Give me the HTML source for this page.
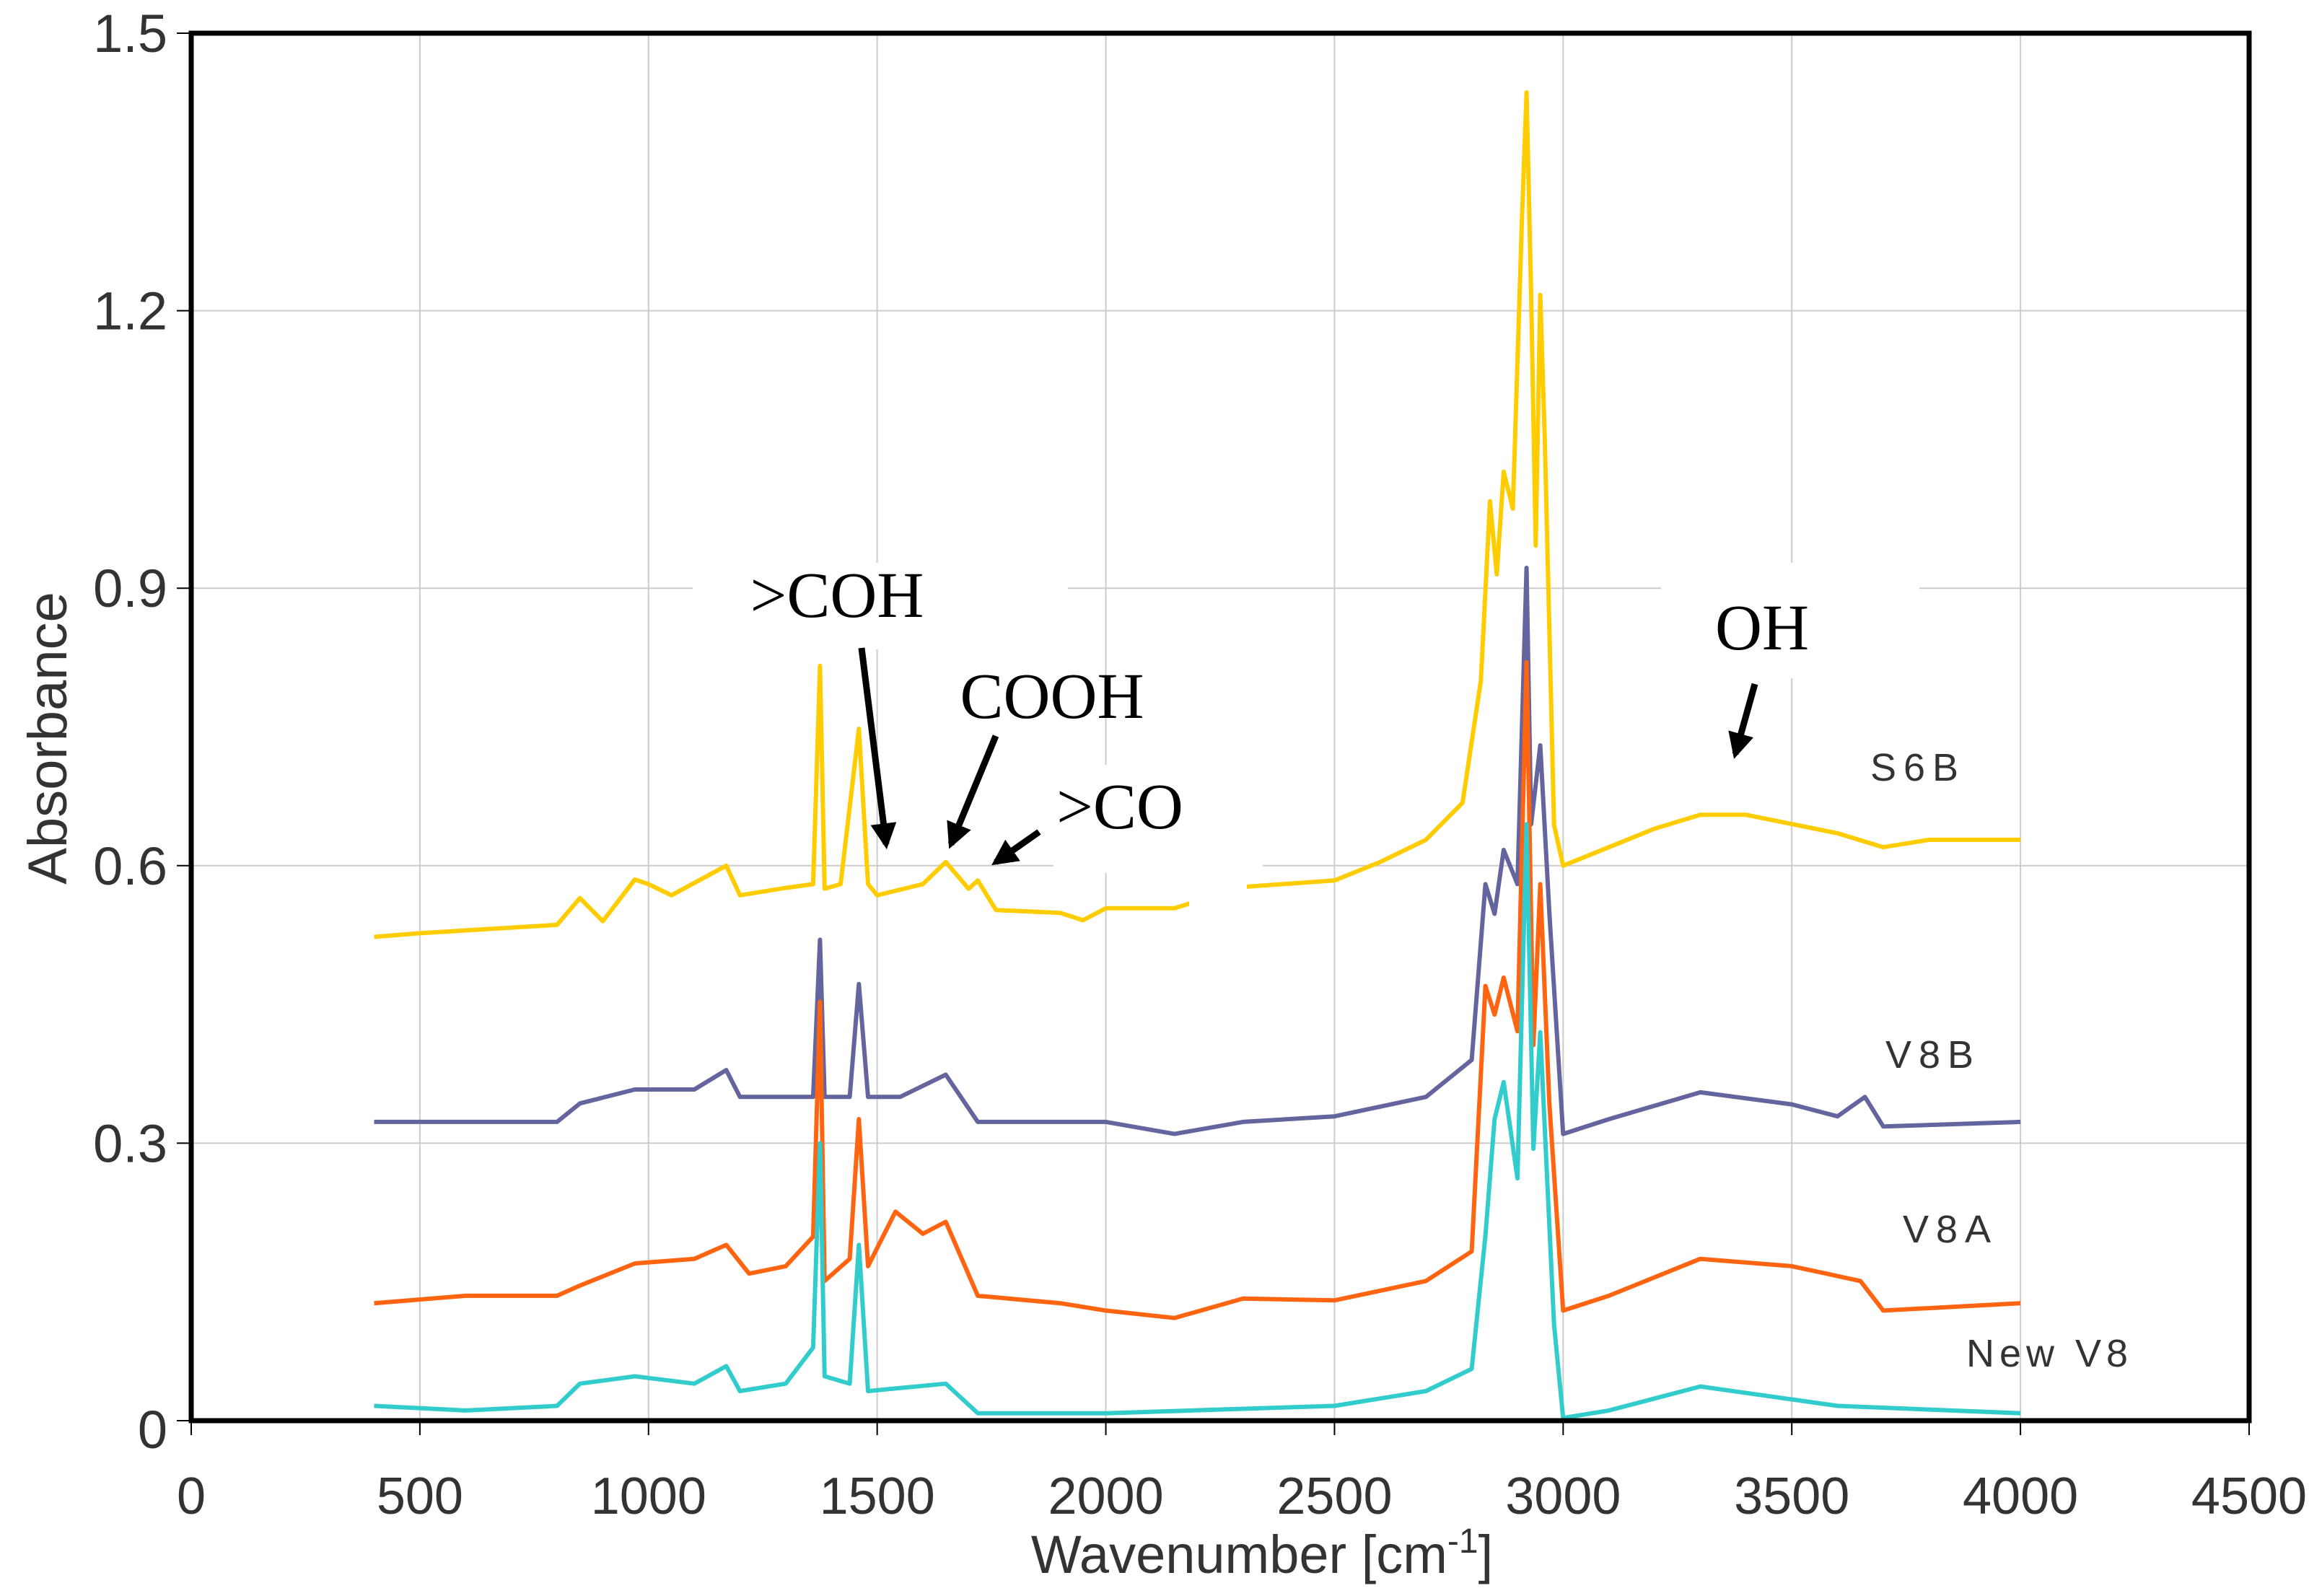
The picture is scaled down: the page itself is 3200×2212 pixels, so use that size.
<!DOCTYPE html>
<html><head><meta charset="utf-8"><style>
html,body{margin:0;padding:0;background:#fff;}
svg{display:block;}
</style></head><body>
<svg id="chart" width="3200" height="2212" viewBox="0 0 3200 2212" xmlns="http://www.w3.org/2000/svg" font-family="Liberation Sans, sans-serif">
<g id="grid"></g>
<g id="series"></g>
<g id="annot"></g>
<g id="axes"></g>
</svg>
<script>
const xTicks=[0,500,1000,1500,2000,2500,3000,3500,4000,4500];
const yTicks=[0,0.3,0.6,0.9,1.2,1.5];
const yTickLabels=["0","0.3","0.6","0.9","1.2","1.5"];
const s6bX=[400,500,800,850,900,970,1000,1050,1170,1200,1300,1360,1375,1385,1420,1460,1480,1500,1600,1650,1700,1720,1760,1900,1950,2000,2150,2300,2500,2600,2700,2780,2820,2840,2855,2870,2890,2910,2920,2930,2940,2950,2960,2980,3000,3100,3200,3300,3400,3500,3600,3700,3800,3900,4000];
const s6bY=[0.523,0.527,0.536,0.565,0.54,0.585,0.58,0.568,0.60,0.568,0.576,0.58,0.816,0.575,0.58,0.748,0.58,0.568,0.58,0.604,0.575,0.584,0.552,0.549,0.541,0.554,0.554,0.577,0.584,0.604,0.628,0.668,0.80,0.994,0.915,1.026,0.986,1.30,1.436,1.217,0.946,1.217,1.058,0.644,0.60,0.62,0.640,0.655,0.655,0.645,0.635,0.62,0.628,0.628,0.628];
const v8bX=[400,800,850,970,1100,1170,1200,1300,1360,1375,1385,1440,1460,1480,1550,1650,1720,1800,2000,2150,2300,2500,2700,2800,2830,2850,2870,2900,2920,2930,2950,2970,3000,3100,3300,3500,3600,3660,3700,4000];
const v8bY=[0.323,0.323,0.343,0.358,0.358,0.379,0.35,0.35,0.35,0.52,0.35,0.35,0.472,0.35,0.35,0.374,0.323,0.323,0.323,0.31,0.323,0.329,0.35,0.39,0.58,0.548,0.617,0.58,0.922,0.645,0.73,0.548,0.31,0.326,0.355,0.342,0.329,0.35,0.318,0.323];
const v8aX=[400,600,800,850,970,1100,1170,1220,1300,1360,1375,1385,1440,1460,1480,1540,1600,1650,1720,1900,2000,2150,2300,2500,2700,2800,2830,2850,2870,2900,2920,2935,2950,2970,3000,3100,3300,3500,3650,3700,4000];
const v8aY=[0.127,0.135,0.135,0.146,0.170,0.175,0.190,0.159,0.167,0.199,0.453,0.151,0.175,0.326,0.167,0.226,0.202,0.215,0.135,0.127,0.119,0.111,0.132,0.130,0.151,0.183,0.47,0.439,0.479,0.421,0.82,0.406,0.58,0.342,0.119,0.135,0.175,0.167,0.151,0.119,0.127];
const nv8X=[400,600,800,850,970,1100,1170,1200,1300,1360,1375,1385,1440,1460,1480,1650,1720,2000,2500,2700,2800,2830,2850,2870,2900,2920,2935,2950,2980,3000,3100,3300,3600,4000];
const nv8Y=[0.016,0.011,0.016,0.040,0.048,0.040,0.059,0.032,0.040,0.079,0.30,0.048,0.040,0.19,0.032,0.040,0.008,0.008,0.016,0.032,0.056,0.20,0.326,0.366,0.262,0.645,0.294,0.42,0.104,0.003,0.011,0.037,0.016,0.008];
const seriesNames=["s6b","v8b","v8a","new-v8"];
const seriesLabels=["S6B","V8B","V8A","New V8"];
const seriesColors=["#FFCC00","#64649F","#FF6410","#33CCCC"];
const NS="http://www.w3.org/2000/svg";
const L=265,R=3117,T=46,B=1969;
const X=v=>L+(v-0)/(4500-0)*(R-L);
const Y=v=>B-(v-0)/1.5*(B-T);
function mk(tag,attrs,parent,text){const e=document.createElementNS(NS,tag);for(const k in attrs)e.setAttribute(k,attrs[k]);if(text!==undefined)e.textContent=text;parent.appendChild(e);return e;}
const grid=document.getElementById('grid'),ser=document.getElementById('series'),ann=document.getElementById('annot'),axes=document.getElementById('axes');
mk('rect',{x:0,y:0,width:3200,height:2212,fill:'#fff'},grid);
xTicks.forEach(t=>{const l=mk('line',{x1:X(t),x2:X(t),y1:T,y2:B,stroke:'#cccccc','stroke-width':2},grid);

});
yTicks.forEach(t=>{const l=mk('line',{x1:L,x2:R,y1:Y(t),y2:Y(t),stroke:'#cccccc','stroke-width':2},grid);

});
const xs=[s6bX,v8bX,v8aX,nv8X],ys=[s6bY,v8bY,v8aY,nv8Y];
xs.forEach((xa,i)=>{const pts=xa.map((x,j)=>X(x).toFixed(1)+','+Y(ys[i][j]).toFixed(1)).join(' ');
const p=mk('polyline',{points:pts,fill:'none',stroke:seriesColors[i],'stroke-width':6,'stroke-linejoin':'round'},ser);

});
const labPos=[[2653,1082],[2674,1480],[2698,1722],[2837,1894]];
seriesLabels.forEach((s,i)=>{const t=mk('text',{x:labPos[i][0],y:labPos[i][1],'font-size':54,fill:'#333','text-anchor':'middle',textLength:s.length*34+20},ser,s);

});
[[960,780,520,120],[1460,1060,290,150],[1648,1180,80,120],[2302,780,358,160]].forEach(b=>{const r=mk('rect',{x:b[0],y:b[1],width:b[2],height:b[3],fill:'#fff'},ann);

});
mk('defs',{},ann).innerHTML='<marker id="ah" viewBox="0 0 10 10" refX="8" refY="5" markerWidth="4" markerHeight="4" orient="auto"><path d="M0,0 L10,5 L0,10 z" fill="#000"/></marker>';
const anns=[[">COH",1160,855,[1194,898,1228,1170]],["COOH",1458,995,[1380,1020,1318,1170]],[">CO",1552,1148,[1440,1153,1380,1195]],["OH",2442,900,[2432,948,2405,1045]]];
anns.forEach(a=>{const t=mk('text',{x:a[1],y:a[2],'font-size':90,'font-family':'Liberation Serif, serif','text-anchor':'middle',fill:'#000'},ann,a[0]);


const ar=mk('line',{x1:a[3][0],y1:a[3][1],x2:a[3][2],y2:a[3][3],stroke:'#000','stroke-width':9,'marker-end':'url(#ah)'},ann);

});
const fr=mk('rect',{x:L,y:T,width:R-L,height:B-T,fill:'none',stroke:'#000','stroke-width':7},axes);


xTicks.forEach(t=>{mk('line',{x1:X(t),x2:X(t),y1:B,y2:B+20,stroke:'#000','stroke-width':2},axes);
const tl=mk('text',{x:X(t),y:2098,'font-size':72,fill:'#333','text-anchor':'middle'},axes,String(t));

});
yTicks.forEach((t,i)=>{mk('line',{x1:L-20,x2:L,y1:Y(t),y2:Y(t),stroke:'#000','stroke-width':2},axes);
const tl=mk('text',{x:232,y:Y(t)+(i===0?38:26),'font-size':74,fill:'#333','text-anchor':'end'},axes,yTickLabels[i]);

});
const xt=mk('text',{x:1749,y:2180,'font-size':74,fill:'#333','text-anchor':'middle'},axes);
xt.innerHTML='Wavenumber [cm<tspan dy="-28" font-size="48">-1</tspan><tspan dy="28">]</tspan>';


const yt=mk('text',{x:0,y:0,'font-size':76,fill:'#333','text-anchor':'middle',transform:'translate(92,1023) rotate(-90)'},axes,'Absorbance');


</script>
</body></html>
